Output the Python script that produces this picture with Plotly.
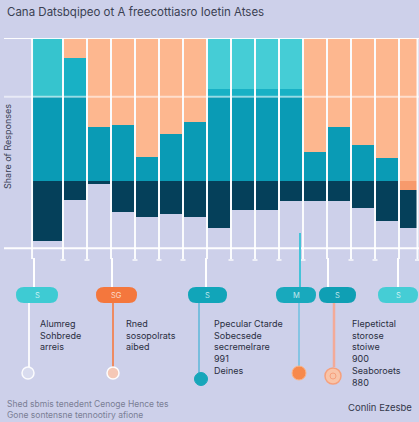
import plotly.graph_objects as go

# ---------------- data ----------------
categories = list(range(16))
teal = [59, 59, 38, 39, 17, 33, 41, 59, 59, 59, 59, 20, 38, 25, 16, 0]
mid_teal = [0, 27, 0, 0, 0, 0, 0, 5, 5, 5, 5, 0, 0, 0, 0, 0]
cyan = [41, 0, 0, 0, 0, 0, 0, 36, 36, 36, 36, 0, 0, 0, 0, 0]
peach = [0, 14, 62, 61, 83, 67, 59, 0, 0, 0, 0, 80, 62, 75, 84, 100]
accent = [0, 0, 0, 0, 0, 0, 0, 0, 0, 0, 0, 0, 0, 0, 0, -6]
navy = [-42, -13, -2, -22, -25, -23, -25, -33, -20, -20, -14, -14, -14, -19, -28, -27]
grid_values = [100, 59, -47]

title_text = "Cana Datsbqipeo ot A freecottiasro Ioetin Atses"
y_title = "Share of Responses"
pill_labels = ["S", "SG", "S", "M", "S", "S"]
blocks = [
    "Alumreg<br>Sohbrede<br>arreis",
    "Rned<br>sosopolrats<br>aibed",
    "Ppecular Ctarde<br>Sobecsede<br>secremelrare<br>991<br>Deines",
    "Flepetictal<br>storose<br>stoiwe<br>900<br>Seaboroets<br>880",
]
foot_left = "Shed sbmis tenedent Cenoge Hence tes<br>Gone sontensne tennootiry afione"
foot_right = "Conlin Ezesbe"

# ---------------- styling ----------------
W, H = 419, 422
ML, MR, MT, MB = 4, 0, 38, 161
PW, PH = W - ML - MR, H - MT - MB
BG = "#cdd0ea"
C_TEAL = "#0a9bb5"
C_MID = "#18b1c5"
C_CYAN = ["#36c4ce"] + ["#3cc9d2"] * 6 + ["#45cdd6"] * 4 + ["#3cc9d2"] * 5
C_PEACH = "#fdb78f"
C_ACC = "#f79a6c"
C_NAVY = "#05405a"
FONT = "Inter, Liberation Sans, Arial"

widths = [1.2] + [0.92] * 14 + [0.72]
offsets = [-0.75] + [-0.46] * 15


def px(x):
    return (x - ML) / PW


def py(y):
    return (MT + PH - y) / PH


fig = go.Figure()
for vals, col in [(teal, C_TEAL), (mid_teal, C_MID), (cyan, C_CYAN), (peach, C_PEACH),
                  (accent, C_ACC), (navy, C_NAVY)]:
    fig.add_bar(x=categories, y=vals, width=widths, offset=offsets,
                marker=dict(color=col, line=dict(width=0)), showlegend=False,
                hoverinfo="skip")

shapes = []
# horizontal grid lines (above bars)
for i, g in enumerate(grid_values):
    shapes.append(dict(type="line", xref="paper", yref="y", x0=0, x1=1, y0=g, y1=g,
                       line=dict(color="rgba(255,255,255,%s)" % (0.55 if i == 1 else 0.95), width=2),
                       layer="above"))
# vertical grid lines between bars
bounds = [-0.79] + [i + 0.5 for i in range(15)] + [15.27]
connect_px = [32, 112, 207, 327, 398]
for b in bounds:
    xp = 51 + 24 * b
    shapes.append(dict(type="line", xref="x", yref="paper", x0=b, x1=b, y0=py(259), y1=1,
                       line=dict(color="rgba(255,255,255,0.9)", width=2), layer="above"))
    if min(abs(xp - c) for c in connect_px) > 4:
        shapes.append(dict(type="line", xref="paper", yref="paper", x0=px(xp - 2.5), x1=px(xp + 2.5),
                           y0=py(260), y1=py(260),
                           line=dict(color="rgba(255,255,255,0.9)", width=1.5), layer="above"))

# connectors from chart to pills
for xc, y0, col in [(34, 258, "white"), (112, 258, "white"), (206, 258, "white"),
                    (300, 233, "#45c3d8"), (328, 258, "white"), (398, 258, "white")]:
    shapes.append(dict(type="line", xref="paper", yref="paper", x0=px(xc), x1=px(xc),
                       y0=py(y0), y1=py(288), line=dict(color=col, width=2), layer="above"))

# lines below pills
for xc, y1, col, w in [(29, 367, "rgba(255,255,255,0.85)", 2), (113, 367, "#ee8b62", 2),
                       (199, 373, "#5ab7d9", 1.5), (299, 366, "#6cc0e0", 1.5),
                       (334, 367, "#f3aa98", 2.5)]:
    shapes.append(dict(type="line", xref="paper", yref="paper", x0=px(xc), x1=px(xc),
                       y0=py(303), y1=py(y1), line=dict(color=col, width=w), layer="above"))

# pills
pills = [(16, 58, "#3ecbd3"), (96, 137, "#f4773d"), (188, 227, "#11a5b9"),
         (276, 316, "#18a9bd"), (319, 356, "#0f9fb4"), (378, 418, "#45cdd5")]
for (x0, x1, col) in pills:
    t, b_ = 287, 303
    r = (b_ - t) / 2
    pts = [
        ("M", x0 + r, t), ("L", x1 - r, t), ("Q", x1, t, x1, t + r), ("Q", x1, b_, x1 - r, b_),
        ("L", x0 + r, b_), ("Q", x0, b_, x0, b_ - r), ("Q", x0, t, x0 + r, t),
    ]
    path = ""
    for p in pts:
        cmd = p[0]
        coords = p[1:]
        seg = " ".join("%.5f,%.5f" % (px(coords[k]), py(coords[k + 1])) for k in range(0, len(coords), 2))
        path += cmd + " " + seg + " "
    path += "Z"
    shapes.append(dict(type="path", xref="paper", yref="paper", path=path,
                       fillcolor=col, line=dict(width=0), layer="above"))

# end circles
circles = [(28, 373, 6, "rgba(255,255,255,0.25)", "rgba(255,255,255,0.9)", 1.5),
           (113, 373, 6, "#f5c8b6", "rgba(255,255,255,0.95)", 1.5),
           (201, 379, 6.5, "#17a6ba", "#17a6ba", 1),
           (299, 373, 7, "#f7894c", "#fbb58a", 1),
           (333, 376, 8, "#f9c4a8", "#f6a07c", 1.5)]
for (cx, cy, r, fc, lc, lw) in circles:
    shapes.append(dict(type="circle", xref="paper", yref="paper", x0=px(cx - r), x1=px(cx + r),
                       y0=py(cy + r), y1=py(cy - r), fillcolor=fc, line=dict(color=lc, width=lw),
                       layer="above"))
shapes.append(dict(type="circle", xref="paper", yref="paper", x0=px(330), x1=px(336),
                   y0=py(379), y1=py(373), fillcolor="rgba(0,0,0,0)",
                   line=dict(color="#f6a07c", width=1), layer="above"))

annotations = [
    dict(text=title_text, x=px(5), y=py(12), xref="paper", yref="paper", xanchor="left",
         yanchor="middle", showarrow=False, font=dict(family=FONT, size=11.5, color="#3a3f52")),
    dict(text=y_title, x=px(7), y=py(147), xref="paper", yref="paper", textangle=-90,
         xanchor="center", yanchor="middle", showarrow=False,
         font=dict(family=FONT, size=9, color="#3a3f55")),
    dict(text=foot_left, x=px(5), y=py(409), xref="paper", yref="paper", xanchor="left",
         yanchor="middle", align="left", showarrow=False,
         font=dict(family=FONT, size=8.5, color="#7a7e95")),
    dict(text=foot_right, x=px(346), y=py(407), xref="paper", yref="paper", xanchor="left",
         yanchor="middle", showarrow=False,
         font=dict(family=FONT, size=9.5, color="#34384a")),
]
for (x0, x1, col), lab in zip(pills, pill_labels):
    annotations.append(dict(text=lab, x=px((x0 + x1) / 2), y=py(295), xref="paper", yref="paper",
                            xanchor="center", yanchor="middle", showarrow=False,
                            font=dict(family=FONT, size=7.5, color="rgba(255,255,255,0.75)")))
for bx, txt in zip([38, 124, 212, 350], blocks):
    annotations.append(dict(text=txt, x=px(bx), y=py(316), xref="paper", yref="paper",
                            xanchor="left", yanchor="top", align="left", showarrow=False,
                            font=dict(family=FONT, size=9, color="#2a2e3f")))

fig.update_layout(
    width=W, height=H, autosize=False,
    margin=dict(l=ML, r=MR, t=MT, b=MB, pad=0),
    paper_bgcolor=BG, plot_bgcolor=BG,
    barmode="relative", bargap=0,
    xaxis=dict(range=[(ML - 51) / 24, (W - 51) / 24], showgrid=False, zeroline=False,
               showticklabels=False, ticks="", fixedrange=True),
    yaxis=dict(range=[-(MT + PH - 181) / 1.43, 100], showgrid=False, zeroline=False,
               showticklabels=False, ticks="", fixedrange=True),
    shapes=shapes, annotations=annotations, showlegend=False,
)

fig.write_html(
    "out.html",
    config={"displayModeBar": False},
    post_script="document.body.style.margin='0';document.body.style.overflow='hidden';"
                "document.body.style.background='%s';" % BG,
)
